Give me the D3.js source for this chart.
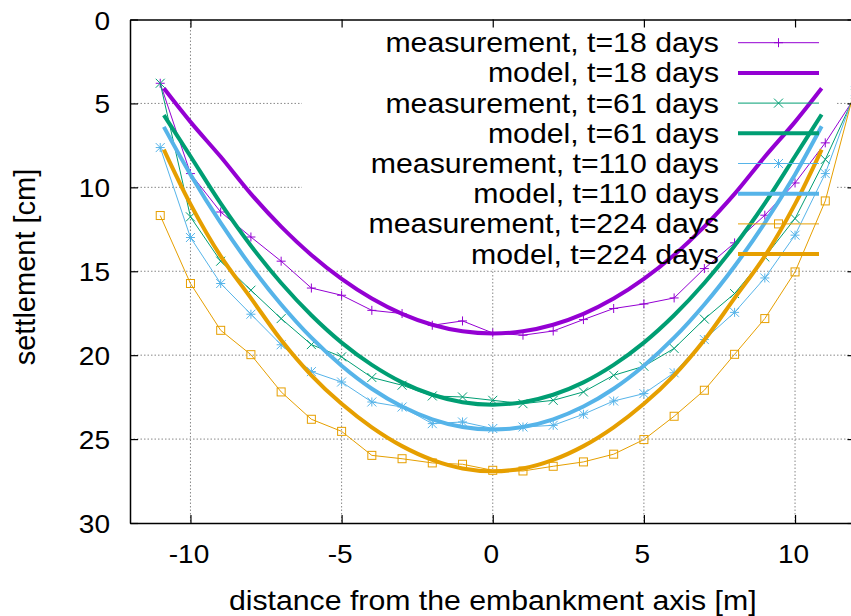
<!DOCTYPE html>
<html><head><meta charset="utf-8">
<script src="https://cdn.jsdelivr.net/npm/d3@7/dist/d3.min.js"></script>
<style>body{margin:0;background:#fff}svg{display:block}</style>
</head><body><svg id="c" width="851" height="616"></svg>
<script>
// ---------- data ----------
const xTicks = [-10, -5, 0, 5, 10];
const yTicks = [0, 5, 10, 15, 20, 25, 30];

const measX = [-11,-10,-9,-8,-7,-6,-5,-4,-3,-2,-1,0,1,2,3,4,5,6,7,8,9,10,11,12];
const meas18  = [3.8, 9.18, 11.47, 12.96, 14.40, 16.0, 16.43, 17.33, 17.52, 18.22, 17.96, 18.68, 18.81, 18.56, 17.88, 17.22, 16.95, 16.59, 14.84, 13.31, 11.66, 9.74, 7.35, 4.58];
const meas61  = [3.8, 11.76, 14.40, 16.13, 17.82, 19.37, 20.1, 21.33, 21.79, 22.43, 22.49, 22.69, 22.89, 22.69, 22.19, 21.2, 20.66, 19.6, 17.85, 16.33, 14.15, 11.86, 8.34, 4.42];
const meas110 = [7.63, 12.99, 15.73, 17.56, 19.38, 20.98, 21.6, 22.79, 23.09, 24.08, 23.98, 24.37, 24.28, 24.18, 23.52, 22.73, 22.29, 21.05, 19.07, 17.45, 15.4, 12.85, 9.18, 4.25];
const meas224 = [11.68, 15.73, 18.52, 19.97, 22.19, 23.82, 24.54, 25.97, 26.17, 26.42, 26.5, 26.86, 26.9, 26.62, 26.36, 25.9, 25.03, 23.64, 22.09, 19.95, 17.82, 15.04, 10.81, 3.98];

const modelX = [-10.88,-10,-9,-8,-7,-6,-5,-4,-3,-2,-1,0,1,2,3,4,5,6,7,8,9,10,10.88];
const model18  = [4.1, 6.1, 8.18, 10.39, 12.34, 14.03, 15.46, 16.63, 17.54, 18.19, 18.58, 18.71, 18.58, 18.19, 17.54, 16.63, 15.46, 14.03, 12.34, 10.39, 8.18, 6.1, 4.1];
const model61  = [5.7, 8.15, 10.96, 13.48, 15.7, 17.62, 19.25, 20.58, 21.62, 22.36, 22.8, 22.95, 22.8, 22.36, 21.62, 20.58, 19.25, 17.62, 15.7, 13.48, 10.96, 8.15, 5.66];
const model110 = [6.4, 9.23, 12.12, 14.7, 16.98, 18.96, 20.63, 22.0, 23.06, 23.82, 24.28, 24.43, 24.28, 23.82, 23.06, 22.0, 20.63, 18.96, 16.98, 14.7, 12.12, 9.23, 6.36];
const model224 = [7.75, 11.0, 14.1, 16.6, 19.1, 21.2, 22.9, 24.3, 25.42, 26.24, 26.75, 26.92, 26.75, 26.24, 25.42, 24.3, 22.9, 21.2, 19.1, 16.6, 14.1, 11.0, 7.75];

const seriesNames = ["measurement, t=18 days","model, t=18 days","measurement, t=61 days","model, t=61 days",
                     "measurement, t=110 days","model, t=110 days","measurement, t=224 days","model, t=224 days"];
const colors = ["#9400d3", "#009e73", "#56b4e9", "#e69f00"];
const markers = ["plus", "cross", "star", "square"];
const xLabel = "distance from the embankment axis [m]";
const yLabel = "settlement [cm]";

// ---------- layout ----------
const FONT = "'Liberation Sans', Arial, Helvetica, sans-serif";
const svg = d3.select("#c");
svg.append("rect").attr("width", 851).attr("height", 616).attr("fill", "#fff");
const x = d3.scaleLinear().domain([-12, 12]).range([130, 855.5]);
const y = d3.scaleLinear().domain([0, 30]).range([19.5, 523]);
const X0 = x.range()[0], X1 = x.range()[1], Y0 = y.range()[0], Y1 = y.range()[1];

// grid
const grid = svg.append("g").attr("stroke", "#888").attr("stroke-width", 1).attr("stroke-dasharray", "1.5,2");
grid.selectAll(".gy").data(yTicks.filter(v => v > 0 && v < 30)).enter().append("line")
  .attr("x1", X0).attr("x2", X1).attr("y1", d => y(d)).attr("y2", d => y(d));
grid.selectAll(".gx").data(xTicks).enter().append("line")
  .attr("y1", Y0).attr("y2", Y1).attr("x1", d => x(d)).attr("x2", d => x(d));

// opaque key area (hides grid)
svg.append("rect").attr("x", 302).attr("y", Y0 + 0.5).attr("width", 535).attr("height", 249).attr("fill", "#fff");

// markers
function marker(g, type, cx, cy) {
  const s = 4.5;
  if (type === "plus" || type === "star") {
    g.append("line").attr("x1", cx - s).attr("x2", cx + s).attr("y1", cy).attr("y2", cy);
    g.append("line").attr("x1", cx).attr("x2", cx).attr("y1", cy - s).attr("y2", cy + s);
  }
  if (type === "cross" || type === "star") {
    g.append("line").attr("x1", cx - s).attr("x2", cx + s).attr("y1", cy - s).attr("y2", cy + s);
    g.append("line").attr("x1", cx - s).attr("x2", cx + s).attr("y1", cy + s).attr("y2", cy - s);
  }
  if (type === "square") {
    g.append("rect").attr("x", cx - 4).attr("y", cy - 4).attr("width", 8).attr("height", 8).attr("fill", "none");
  }
}

const measSets = [meas18, meas61, meas110, meas224];
const modelSets = [model18, model61, model110, model224];
const lineGen = d3.line().x(d => x(d[0])).y(d => y(d[1]));
const curveGen = d3.line().x(d => x(d[0])).y(d => y(d[1])).curve(d3.curveCatmullRom.alpha(0.5));

const plot = svg.append("g");
for (let i = 0; i < 4; i++) {
  const pts = measX.map((v, j) => [v, measSets[i][j]]);
  const g = plot.append("g").attr("stroke", colors[i]).attr("stroke-width", 1).attr("fill", "none");
  g.append("path").attr("d", lineGen(pts));
  pts.forEach(p => marker(g, markers[i], x(p[0]), y(p[1])));
  const mpts = modelX.map((v, j) => [v, modelSets[i][j]]);
  plot.append("path").attr("d", curveGen(mpts)).attr("fill", "none").attr("stroke", colors[i])
    .attr("stroke-width", 4).attr("stroke-linejoin", "round");
}

// axes
const SX = 1.1;
const fmt = d => String(d);
const axB = d3.axisBottom(x).tickValues(xTicks).tickSizeInner(-8).tickSizeOuter(0).tickFormat(fmt);
const axL = d3.axisLeft(y).tickValues(yTicks).tickSizeInner(-8).tickSizeOuter(0).tickFormat(fmt);
const axT = d3.axisTop(x).tickValues(xTicks).tickSizeInner(-8).tickSizeOuter(0).tickFormat("");
const axR = d3.axisRight(y).tickValues(yTicks).tickSizeInner(-8).tickSizeOuter(0).tickFormat("");
const gB = svg.append("g").attr("transform", `translate(0,${Y1})`).call(axB);
const gL = svg.append("g").attr("transform", `translate(${X0},0)`).call(axL);
const gT = svg.append("g").attr("transform", `translate(0,${Y0})`).call(axT);
const gR = svg.append("g").attr("transform", `translate(${X1},0)`).call(axR);
[gB, gL, gT, gR].forEach(g => {
  g.select(".domain").attr("stroke", "#000").attr("stroke-width", 1.5);
  g.selectAll(".tick line").attr("stroke", "#000").attr("stroke-width", 1.2);
});
gB.selectAll(".tick text").attr("x", 0).attr("y", 0).attr("dy", 0)
  .attr("transform", "translate(-2,40) scale(" + SX + ",1)")
  .attr("font-family", FONT).attr("font-size", 25.5).attr("fill", "#000");
gL.selectAll(".tick text").attr("x", 0).attr("y", 0).attr("dy", 0)
  .attr("transform", "translate(-20,9.5) scale(" + SX + ",1)")
  .attr("font-family", FONT).attr("font-size", 25.5).attr("fill", "#000");

// axis labels
svg.append("text").attr("transform", `translate(${x(0)},610) scale(${SX},1)`)
  .attr("text-anchor", "middle").attr("font-family", FONT).attr("font-size", 27.5).text(xLabel);
svg.append("text").attr("transform", `translate(35,267) rotate(-90)`)
  .attr("text-anchor", "middle").attr("font-family", FONT).attr("font-size", 29).text(yLabel);

// legend
const leg = svg.append("g");
seriesNames.forEach((name, k) => {
  const i = Math.floor(k / 2), isModel = k % 2 === 1;
  const cy = 42.7 + k * 30.2;
  leg.append("text").attr("transform", `translate(719,${cy + 9.5}) scale(${SX},1)`)
    .attr("text-anchor", "end").attr("font-family", FONT).attr("font-size", 27.5).text(name);
  const g = leg.append("g").attr("stroke", colors[i]).attr("fill", "none").attr("stroke-width", isModel ? 4 : 1);
  g.append("line").attr("x1", 738).attr("x2", 819).attr("y1", cy).attr("y2", cy);
  if (!isModel) marker(g, markers[i], 778.5, cy);
});
</script></body></html>
